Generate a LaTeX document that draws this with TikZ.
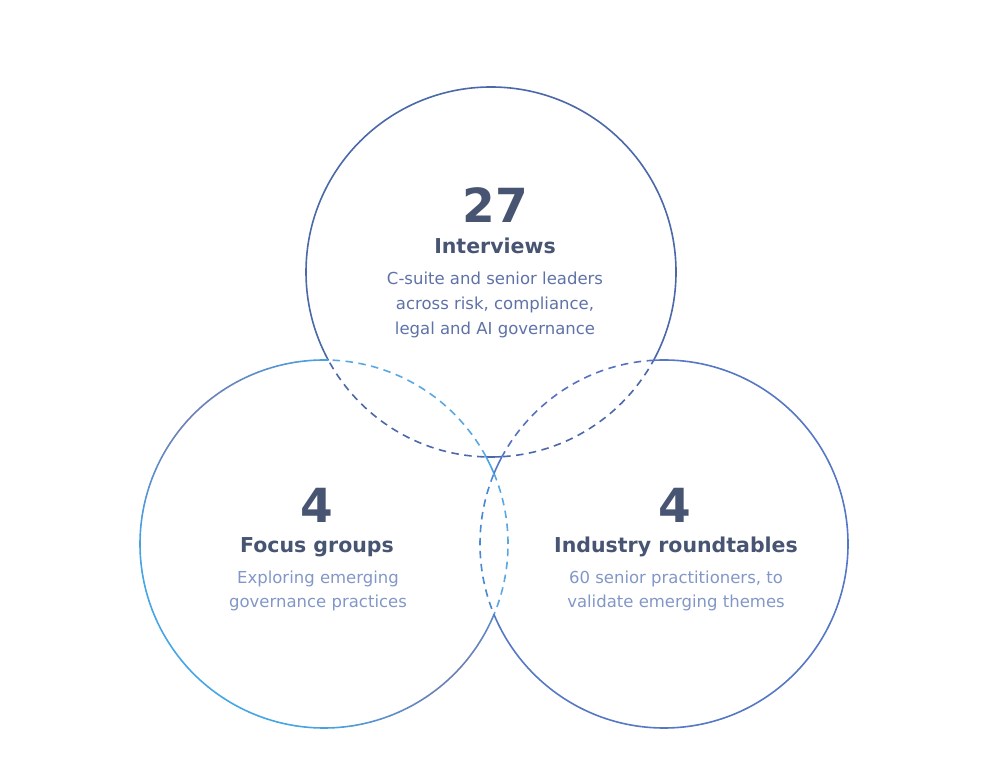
\documentclass[tikz,border=0pt]{standalone}
\usepackage{fontspec}
\setmainfont{DejaVu Sans}
\definecolor{topc}{HTML}{4B68A8}
\definecolor{rightc}{HTML}{5677C6}
\definecolor{rightdT}{HTML}{5472C0}
\definecolor{rightdL}{HTML}{4A88D4}
\definecolor{lbright}{HTML}{46A6E6}
\definecolor{ldark}{HTML}{6C80B6}
\definecolor{leftd}{HTML}{5AA8E2}
\definecolor{titlec}{HTML}{475573}
\definecolor{bodytop}{HTML}{5E72A8}
\definecolor{bodylow}{HTML}{8297C7}
\begin{document}
\begin{tikzpicture}[x=1pt,y=1pt,line width=1.6pt,
  dashy/.style={dash pattern=on 7.5pt off 5.5pt},
  num/.style={font=\fontsize{47}{47}\selectfont\bfseries,text=titlec,anchor=base,inner sep=0pt},
  ttl/.style={font=\fontsize{20.5}{24}\selectfont\bfseries,text=titlec,anchor=base,inner sep=0pt},
  bdy/.style={font=\fontsize{16.5}{20}\selectfont,anchor=base,inner sep=0pt},
  outside/.style={insert path={(-10,-10) -- (-10,800) -- (1000,800) -- (1000,-10) -- cycle}}]
\path[use as bounding box] (0,0) rectangle (981,776);
\coordinate (T) at (491,504);
\coordinate (L) at (324,232);
\coordinate (R) at (664,232);
% ---------- top circle ----------
\begin{scope}
  \clip[outside] (L) circle[radius=184];
  \clip[outside] (R) circle[radius=184];
  \draw[topc] (T) circle[radius=185];
\end{scope}
\begin{scope}
  \clip (L) circle[radius=184];
  \draw[topc,dashy] (T) circle[radius=185];
\end{scope}
\begin{scope}
  \clip (R) circle[radius=184];
  \draw[topc,dashy] (T) circle[radius=185];
\end{scope}
% ---------- left circle ----------
\begin{scope}
  \clip[outside] (T) circle[radius=185];
  \clip[outside] (R) circle[radius=184];
  \foreach \a in {0,3,...,357}{
    \pgfmathsetmacro\w{100*abs(cos(\a+1.5-135))^6}
    \draw[ldark!\w!lbright,line cap=round] ([shift={(L)}]\a:184) arc[start angle=\a,end angle=\a+3,radius=184];
  }
\end{scope}
\begin{scope}
  \clip (T) circle[radius=185];
  \draw[leftd,dashy] (L) circle[radius=184];
\end{scope}
\begin{scope}
  \clip (R) circle[radius=184];
  \draw[leftd,dashy] (L) circle[radius=184];
\end{scope}
% ---------- right circle ----------
\begin{scope}
  \clip[outside] (T) circle[radius=185];
  \clip[outside] (L) circle[radius=184];
  \draw[rightc] (R) circle[radius=184];
\end{scope}
\begin{scope}
  \clip (T) circle[radius=185];
  \draw[rightdT,dashy] (R) circle[radius=184];
\end{scope}
\begin{scope}
  \clip (L) circle[radius=184];
  \draw[rightdL,dashy] (R) circle[radius=184];
\end{scope}
% ---------- texts ----------
\node[num] (n1) at (495,553) {27};
\node[ttl] (t1) at (495,522) {Interviews};
\node[bdy,text=bodytop] (b1a) at (495,491) {C-suite and senior leaders};
\node[bdy,text=bodytop] (b1b) at (495,466) {across risk, compliance,};
\node[bdy,text=bodytop] (b1c) at (495,441) {legal and AI governance};
\node[num] (n2) at (317,253) {4};
\node[ttl] (t2) at (317,223) {Focus groups};
\node[bdy,text=bodylow] (b2a) at (318,193) {Exploring emerging};
\node[bdy,text=bodylow] (b2b) at (318,168) {governance practices};
\node[num] (n3) at (675,253) {4};
\node[ttl] (t3) at (676,223) {Industry roundtables};
\node[bdy,text=bodylow] (b3a) at (676,193) {60 senior practitioners, to};
\node[bdy,text=bodylow] (b3b) at (676,168) {validate emerging themes};
\end{tikzpicture}
\end{document}
